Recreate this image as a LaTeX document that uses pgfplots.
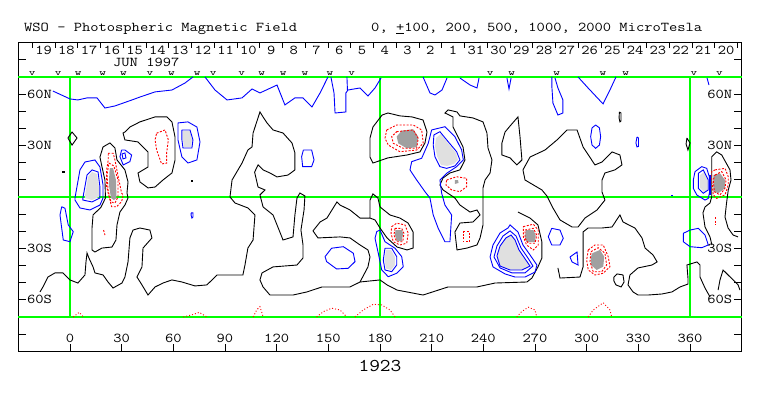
\documentclass[border=0pt]{standalone}
\usepackage{graphicx}
\usepackage{pgfplots}
\pgfplotsset{compat=1.18}
\definecolor{lg}{RGB}{224,224,224}
\definecolor{dg}{RGB}{160,160,160}
\definecolor{grn}{RGB}{0,255,0}
\newcommand{\mono}[1]{\scalebox{1.19}[1]{\fontsize{13.5}{14}\selectfont\ttfamily #1}}
\newcommand{\vwfont}[1]{\scalebox{1.4}[1]{\fontsize{9}{10}\selectfont\ttfamily #1}}
\newcommand{\vw}[2]{\node[inner sep=0pt] at (axis cs:#1,71.8) {\vwfont{#2}};}
\pgfplotsset{
 blk/.style={black, line width=0.9pt},
 blu/.style={blue, line width=0.9pt},
 rdd/.style={red, line width=0.9pt, dash pattern=on 2pt off 1.5pt},
 rdt/.style={red, line width=0.9pt, dash pattern=on 1pt off 2pt},
 gl/.style={grn, line width=1.1pt},
}
\begin{document}
\begin{tikzpicture}
\begin{axis}[
 scale only axis, width=723.3pt, height=308.5pt,
 xmin=-30, xmax=390, ymin=-90, ymax=90,
 clip=false,
 axis line style={black, line width=0.8pt},
 xtick={0,30,...,360}, xticklabels={}, xtick pos=left,
 ytick={-80,-70,...,80}, yticklabels={}, ytick pos=both,
 tick align=inside, major tick length=7.5pt,
 tick style={black, line width=0.8pt},
]
% grid lines
\addplot[gl] coordinates {(-30,70) (390,70)};
\addplot[gl] coordinates {(-30,0) (390,0)};
\addplot[gl] coordinates {(-30,-70) (390,-70)};
\addplot[gl] coordinates {(0,-70) (0,70)};
\addplot[gl] coordinates {(180,-70) (180,70)};
\addplot[gl] coordinates {(360,-70) (360,70)};
% fills (light = strong positive, dark = strong negative)
\addplot[fill=lg, draw=none] coordinates {(8.7,0.6) (10.5,11.7) (12.8,14.6) (15.7,13.4) (16.8,5.8) (16.8,0) (12.8,-1.8) (8.7,-0.6)} -- cycle;
\addplot[fill=lg, draw=none] coordinates {(65.6,38.5) (69.7,38.5) (70.8,33.3) (70.3,29.2) (66.2,29.2) (65.6,33.3)} -- cycle;
\addplot[fill=lg, draw=none] coordinates {(212.5,34.4) (215.4,36.8) (218.9,32.1) (224.1,25.7) (225.3,21.6) (223.0,19.3) (218.9,18.1) (215.4,18.7) (213.1,23.9) (211.9,29.8)} -- cycle;
\addplot[fill=lg, draw=none] coordinates {(183.5,-30.9) (186.4,-30.9) (188.7,-35.0) (188.7,-39.7) (186.4,-42.6) (183.5,-41.7) (182.6,-36.8)} -- cycle;
\addplot[fill=lg, draw=none] coordinates {(247.9,-34.4) (249.7,-28.6) (253.1,-23.9) (256.1,-22.2) (258.4,-25.1) (260.7,-30.9) (264.7,-36.8) (267.1,-40.3) (262.4,-42.6) (255.5,-42.6) (249.7,-40.3)} -- cycle;
\addplot[fill=lg, draw=none] coordinates {(365.8,12.8) (368.1,14.6) (370.4,9.9) (370.4,4.1) (368.1,2.9) (365.8,5.3)} -- cycle;
\addplot[fill=dg, draw=none] coordinates {(23.2,16.9) (25.0,16.9) (26.7,9.9) (27.0,-0.6) (25.5,-1.8) (23.8,-0.6) (22.6,7.0) (22.9,14.6)} -- cycle;
\addplot[fill=dg, draw=none] coordinates {(189.7,35.2) (192.6,38.7) (199.3,39.5) (202.2,35.2) (201.3,29.0) (195.5,28.4) (190.6,31.3)} -- cycle;
\addplot[fill=dg, draw=none] coordinates {(223.5,9.9) (225.3,9.9) (225.6,8.2) (223.5,7.6)} -- cycle;
\addplot[fill=dg, draw=none] coordinates {(189.0,-19.3) (192.6,-19.3) (193.5,-21.2) (192.6,-25.7) (189.7,-25.7) (188.7,-22.2)} -- cycle;
\addplot[fill=dg, draw=none] coordinates {(264.6,-19.3) (269.0,-19.3) (270.4,-22.2) (270.0,-26.4) (265.1,-26.4) (264.2,-23.2)} -- cycle;
\addplot[fill=dg, draw=none] coordinates {(303.3,-32.8) (307.7,-30.9) (310.2,-34.8) (309.6,-40.7) (305.8,-42.6) (302.5,-39.7) (302.5,-34.8)} -- cycle;
\addplot[fill=dg, draw=none] coordinates {(373.5,12.8) (377.4,13.8) (380.3,9.9) (380.3,5.1) (376.4,2.2) (373.5,3.1)} -- cycle;
% zero contours (black)
\addplot[blk] coordinates {(-1.2,34.4) (1.2,37.9) (4.1,34.4) (1.2,30.3) (-1.2,34.4)};
\addplot[blk] coordinates {(20.6,-0.6) (20.3,9.9) (18.6,17.5) (17.4,23.3) (19.2,29.2) (23.2,31.5) (26.1,28.6) (27.3,21.6) (31.9,15.8) (33.7,8.8) (33.1,2.3) (33.7,-0.6) (31.9,-4.7) (29.0,-8.8) (27.3,-16.3) (26.7,-25.1) (24.4,-29.2) (18.6,-29.8) (14.5,-32.1) (12.8,-30.9) (12.8,-18.1) (13.4,-10.5) (18.0,-6.0) (20.6,-0.6)};
\addplot[blk] coordinates {(31.9,37.9) (34.8,40.8) (40.6,43.8) (49.4,46.7) (56.3,46.7) (59.2,43.8) (61.0,35.0) (61.0,21.6) (59.2,14.0) (54.0,9.9) (49.4,5.8) (45.3,5.3) (40.6,8.8) (39.5,14.0) (45.3,17.5) (45.3,26.3) (39.5,32.1) (31.9,33.3) (30.8,37.3) (31.9,37.9)};
\addplot[blk] coordinates {(-17.4,-55.4) (-15.7,-52.5) (-12.8,-46.7) (-8.7,-44.3) (-4.1,-44.3) (0,-48.4) (4.6,-50.2) (8.7,-45.5) (9.3,-37.9) (9.9,-32.7) (11.0,-35.6) (13.4,-40.8) (14.5,-44.3) (19.2,-45.5) (22.1,-49.6) (25.0,-53.1) (30.2,-50.2) (31.9,-46.7) (33.7,-37.9) (34.8,-23.9) (36.6,-19.3) (40.6,-18.1) (46.4,-19.3) (47.6,-23.9) (42.4,-29.8) (41.8,-40.8) (38.9,-46.7) (41.8,-51.3) (45.3,-57.2) (49.4,-52.5) (54.0,-50.2) (59.2,-48.4) (65.0,-49.6) (72.6,-51.9) (79.5,-51.3) (85.4,-45.5) (100.4,-45.5) (101.6,-39.7) (103.3,-29.8) (106.3,-25.1) (107.4,-10.5) (103.3,-6.4) (95.8,-3.5) (92.9,0) (94.1,9.9) (99.9,19.8) (103.3,27.4) (105.7,29.2) (106.3,37.3) (110.3,49.6) (112.1,46.7) (114.4,43.2) (117.9,39.1) (123.7,37.3) (128.9,31.5) (130.6,25.7) (130.6,15.8) (126.6,12.8) (120.2,11.7) (116.1,14.0) (112.1,15.8) (109.2,18.7) (107.2,14.5) (109.2,5.8) (113.2,4.1) (110.3,1.2) (112.1,-5.8) (117.9,-10.5) (123.7,-25.1) (129.5,-23.3) (130.6,-10.5) (131.8,-0.6) (133.5,2.3) (136.4,0.6) (135.9,-7.6) (134.1,-19.3) (135.3,-28.0) (135.3,-35.6) (131.8,-39.7) (117.9,-40.8) (111.5,-44.3) (110.3,-48.4) (112.1,-52.5) (116.1,-57.2) (129.5,-57.2) (137.6,-55.4) (146.3,-52.5) (155.0,-52.5) (162.6,-52.5) (168.4,-49.6) (180.0,-48.4) (184.1,-51.3) (189.9,-54.3) (205.0,-57.2) (219.5,-52.5) (236.3,-52.5) (246.8,-50.2) (265.3,-49.6) (268.2,-47.3) (271.7,-40.8) (274.0,-35.6) (274.0,-26.3) (271.7,-16.3) (267.1,-12.3) (260.1,-8.8)};
\addplot[blk] coordinates {(168.4,-49.6) (173.0,-40.8) (174.2,-35.0) (173.0,-30.9) (168.4,-28.0) (162.6,-23.9) (156.8,-23.3) (144.0,-23.9) (141.1,-19.8) (145.2,-14.6) (149.2,-12.3) (155.0,-2.9) (156.8,-4.7) (162.6,-7.6) (168.4,-12.3) (174.2,-12.3) (174.2,-1.8) (175.9,1.8) (178.8,-0.6) (180.0,-5.8) (185.8,-10.5) (191.6,-12.3) (196.3,-15.2) (199.2,-20.4) (199.2,-29.8) (195.7,-30.9) (189.9,-29.2) (184.1,-23.9) (180.0,-18.1) (177.1,-13.4) (174.2,-12.3)};
\addplot[blk] coordinates {(174.2,34.4) (175.9,40.8) (181.2,47.8) (184.6,49.0) (191.6,47.3) (198.6,46.7) (205.0,44.9) (207.3,37.9) (206.1,31.5) (203.2,26.3) (195.7,24.5) (184.6,22.8) (175.9,19.8) (174.2,23.3) (174.2,31.5) (174.2,34.4)};
\addplot[blk] coordinates {(223.5,-0.6) (216.6,4.1) (214.8,7.0) (216.6,11.1) (220.6,14.0) (226.4,15.8) (229.3,21.6) (228.2,29.2) (224.7,36.2) (222.4,40.8) (222.4,46.7) (217.7,49.0) (219.5,50.8) (224.7,49.6) (226.4,47.3) (234.0,46.1) (239.8,43.8) (242.1,37.3) (242.7,28.6) (245.0,21.6) (243.9,14.0) (241.0,9.9) (239.8,5.3) (239.8,-0.6)};
\addplot[blk] coordinates {(223.5,-0.6) (226.4,-4.7) (232.3,-8.8) (236.3,-7.6) (238.1,-10.5) (234.0,-14.6) (226.4,-15.2) (223.5,-20.4) (224.7,-30.9) (230.5,-29.8) (236.3,-28.0) (238.1,-23.9) (239.8,-16.3) (239.8,-4.7) (239.8,-0.6)};
\addplot[blk] coordinates {(250.8,31.5) (252.6,37.9) (255.5,41.4) (260.1,46.7) (261.3,35.0) (262.4,21.6) (259.5,18.7) (255.5,22.8) (250.8,24.5) (250.8,31.5)};
\addplot[blk] coordinates {(263.0,15.8) (267.1,23.3) (275.8,27.4) (282.8,33.3) (288.6,39.1) (294.4,39.1) (297.9,29.2) (304.8,18.7) (308.9,20.4) (314.7,26.3) (319.3,24.5) (320.5,18.7) (316.4,15.8) (310.6,14.0) (308.9,9.9) (308.9,2.9) (310.6,-1.8) (306.0,-7.6) (299.0,-12.3) (295.0,-17.5) (291.5,-17.5) (284.5,-13.4) (280.4,-6.4) (276.9,0.6) (274.0,4.1) (264.2,9.9) (263.0,15.8)};
\addplot[blk] coordinates {(319.0,49.6) (319.9,49.0) (319.9,44.3) (319.3,43.8) (318.8,46.1) (319.0,49.6)};
\addplot[blk] coordinates {(358.2,34.4) (360.0,31.5) (358.8,27.4) (357.7,30.9) (358.2,34.4)};
\addplot[blk] coordinates {(372.7,-28.0) (371.6,-23.3) (368.7,-17.5) (367.5,-9.3) (368.7,-5.8) (371.6,-3.5) (372.6,0.2) (372.6,23.5) (375.5,26.3) (378.4,24.5) (383.2,15.8) (383.8,9.9) (382.2,4.1) (381.2,-3.5) (380.3,-11.7) (382.1,-18.1) (385.0,-22.2) (387.9,-23.3)};
\addplot[blk] coordinates {(376.3,-54.3) (377.4,-48.4) (379.2,-42.6) (382.1,-45.5) (387.9,-51.3) (389.0,-54.3)};
\addplot[blk] coordinates {(283.3,-41.4) (284.5,-47.3) (296.1,-46.7) (297.9,-40.8) (297.9,-20.4) (300.8,-18.1) (308.9,-18.1) (314.7,-17.5) (319.3,-10.5) (321.1,-14.6) (328.0,-18.1) (332.1,-23.9) (333.9,-29.8) (338.5,-33.8) (340.9,-37.9) (337.9,-39.7) (329.8,-41.4) (325.1,-45.5) (324.0,-51.3) (326.9,-55.4) (329.8,-57.2) (335.6,-57.2) (343.7,-56.6) (349.5,-55.4) (354.2,-52.5) (358.8,-50.8) (358.8,-47.3) (358.2,-39.7) (364.0,-37.9) (365.8,-39.7) (365.8,-46.7) (368.7,-53.1) (371.6,-58.3)};
\addplot[blk] coordinates {(315.8,-46.7) (317.6,-44.9) (321.1,-45.5) (321.7,-49.6) (320.0,-52.5) (317.0,-51.3) (315.8,-49.0) (315.8,-46.7)};
\addplot[only marks, mark=square*, mark size=0.6pt, black] coordinates {(-3.9,14.8) (70.7,9.5)};
% positive contours (blue)
\addplot[blu] coordinates {(-9.9,61.8) (0,57.2) (4.6,56.6) (9.9,57.8) (15.7,57.8) (20.3,51.9) (26.1,53.1) (36.0,56.6) (40.6,58.3) (49.4,61.3) (59.2,62.4) (66.8,66.5) (71.4,70.0)};
\addplot[blu] coordinates {(78.4,70.0) (84.2,62.4) (91.2,56.6) (99.9,57.8) (105.7,63.0) (110.3,60.7) (120.2,65.3) (124.8,53.7) (130.6,57.8) (135.3,57.8) (140.5,52.5) (145.2,60.7) (149.8,70.0)};
\addplot[blu] coordinates {(151.5,70.0) (153.3,60.7) (153.9,49.0) (160.2,49.6) (160.2,60.7) (161.4,62.4) (168.4,63.6) (173.0,58.9) (177.1,63.6) (180.6,69.4)};
\addplot[blu] coordinates {(160.8,70) (161.1,62.4)};
\addplot[blu] coordinates {(205.0,70) (209.0,60.7) (211.9,59.5) (216.0,62.4) (218.9,69.4)};
\addplot[blu] coordinates {(226.4,69.4) (232.3,65.3) (236.3,63.6) (237.5,69.4)};
\addplot[blu] coordinates {(253.7,69.4) (254.9,63.0) (256.1,69.4)};
\addplot[blu] coordinates {(279.8,70) (279.8,64.2) (280.4,54.8) (283.3,47.8) (286.2,49.0) (286.2,56.6) (283.3,63.6) (281.6,69.4)};
\addplot[blu] coordinates {(295.0,70) (300.8,63.6) (309.5,54.3) (313.5,62.4) (317.0,70)};
\addplot[blu] coordinates {(369.9,69.4) (371.0,65.3)};
\addplot[blu] coordinates {(305.2,42.0) (307.4,40.3) (308.1,35.2) (307.4,30.3) (305.2,28.4) (303.1,30.3) (302.3,35.2) (303.1,40.3) (305.2,42.0)};
\addplot[blu] coordinates {(329.2,35.0) (330.1,34.4) (330.1,29.5) (329.2,29.2) (328.6,31.5) (329.2,35.0)};
\addplot[blu] coordinates {(-4.8,-5.7) (-5.8,-10.5) (-3.9,-25.1) (0,-26.1) (1.9,-20.2) (-1.0,-16.3) (-2.9,-6.6) (-4.8,-5.7)};
\addplot[blu] coordinates {(2.9,-0.6) (5.8,15.8) (8.7,20.4) (14.5,21.6) (17.4,17.5) (19.2,7.0) (19.2,-0.6) (17.4,-4.7) (11.6,-7.6) (5.8,-6.4) (2.9,-1.8) (2.9,-0.6)};
\addplot[blu] coordinates {(7.5,-0.6) (9.9,12.8) (12.8,15.8) (16.3,14.6) (17.4,5.8) (17.4,-0.6) (12.8,-2.9) (7.5,-1.8) (7.5,-0.6)};
\addplot[blu] coordinates {(30.0,27.4) (29.0,23.5) (30.9,18.7) (34.8,20.6) (35.8,24.5) (31.9,27.4) (30.0,27.4)};
\addplot[blu] coordinates {(30.2,25.1) (31.9,25.7) (32.5,22.8) (30.8,22.2) (30.2,25.1)};
\addplot[blu] coordinates {(70.3,-9.3) (71.4,-9.3) (71.4,-11.7) (70.8,-12.3) (70.3,-10.5) (70.3,-9.3)};
\addplot[blu] coordinates {(62.7,43.2) (68.5,43.8) (73.7,40.8) (75.5,32.1) (73.7,21.6) (68.5,19.8) (65.0,23.3) (62.7,33.3) (62.7,43.2)};
\addplot[blu] coordinates {(65.0,39.1) (69.7,39.1) (71.4,33.3) (70.8,28.6) (65.6,28.6) (65.0,33.3) (65.0,39.1)};
\addplot[blu] coordinates {(135.5,27.4) (140.3,27.4) (141.7,21.6) (140.3,17.7) (135.1,17.7) (134.5,23.5) (135.5,27.4)};
\addplot[blu] coordinates {(210.0,39.1) (217.7,41.0) (223.5,35.2) (227.4,27.4) (228.4,21.6) (224.5,17.7) (218.7,13.8) (214.8,9.9) (215.8,2.2) (217.7,-4.7) (221.6,-10.5) (220.6,-26.1) (217.7,-26.1) (213.8,-18.3) (210.9,-10.5) (209.0,-0.6) (206.1,3.1) (201.3,9.9) (197.4,15.8) (198.4,20.6) (204.2,22.6) (208.0,31.3) (210.0,39.1)};
\addplot[blu] coordinates {(211.3,36.2) (214.8,38.1) (218.7,33.3) (224.5,26.4) (226.4,21.6) (223.5,18.1) (218.7,16.7) (214.8,17.7) (211.9,23.5) (210.9,30.3) (211.3,36.2)};
\addplot[blu] coordinates {(148.1,-34.8) (151.9,-29.9) (158.7,-29.0) (164.5,-32.8) (165.5,-37.7) (161.6,-41.6) (154.8,-42.0) (149.0,-37.7) (148.1,-34.8)};
\addplot[blu] coordinates {(178.1,-20.2) (180.0,-19.3) (182.9,-26.1) (188.7,-29.9) (192.6,-34.8) (193.5,-40.7) (189.7,-44.5) (184.8,-46.5) (181.0,-42.6) (179.0,-32.8) (177.1,-24.1) (178.1,-20.2)};
\addplot[blu] coordinates {(182.9,-29.9) (186.8,-29.9) (189.7,-34.8) (189.7,-39.7) (186.8,-43.6) (182.9,-42.6) (181.9,-36.8) (182.9,-29.9)};
\addplot[blu] coordinates {(243.9,-35.0) (245.6,-28.0) (249.7,-21.0) (254.3,-18.1) (255.5,-16.3) (260.1,-20.4) (263.0,-28.0) (267.1,-33.8) (271.1,-39.7) (270.0,-43.8) (264.2,-46.7) (258.4,-46.7) (252.6,-44.9) (245.6,-40.8) (243.9,-35.0)};
\addplot[blu] coordinates {(246.2,-35.0) (247.9,-28.6) (251.4,-22.8) (255.5,-19.8) (259.0,-22.8) (261.9,-29.8) (265.9,-35.6) (268.8,-40.3) (264.2,-44.3) (256.6,-44.3) (249.7,-41.4) (246.2,-35.0)};
\addplot[blu] coordinates {(247.9,-34.4) (249.7,-28.6) (253.1,-23.9) (256.1,-22.2) (258.4,-25.1) (260.7,-30.9) (264.7,-36.8) (267.1,-40.3) (262.4,-42.6) (255.5,-42.6) (249.7,-40.3) (247.9,-34.4)};
\addplot[blu] coordinates {(279.7,-18.3) (284.5,-19.3) (286.4,-24.1) (284.5,-28.0) (279.7,-28.0) (277.7,-23.2) (279.7,-18.3)};
\addplot[blu] coordinates {(290.3,-35.0) (294.4,-32.1) (295.0,-39.7) (291.5,-37.9) (290.3,-35.0)};
\addplot[blu] coordinates {(356.1,-21.2) (360.0,-19.3) (364.8,-18.3) (368.7,-22.2) (370.6,-28.0) (366.8,-29.6) (360.0,-29.0) (356.1,-26.1) (356.1,-21.2)};
\addplot[blu] coordinates {(361.9,9.9) (362.9,14.8) (366.8,17.7) (369.7,16.7) (371.2,11.8) (371.6,4.1) (370.6,-0.8) (368.7,-1.8) (363.9,1.2) (361.9,5.1) (361.9,9.9)};
\addplot[blu] coordinates {(364.8,13.8) (367.7,15.8) (370.6,9.9) (370.6,4.1) (367.7,2.2) (364.8,5.1) (364.8,13.8)};
\addplot[blue, line width=1.6pt] coordinates {(371.6,12.8) (371.6,1.2)};
\addplot[blu] coordinates {(349.0,0.6) (350.1,0.6)};
% negative contours (red, dashed)
\addplot[rdd] coordinates {(22.2,25.5) (25.1,25.5) (26.1,21.6) (28.0,11.8) (30.0,2.2) (30.9,1.2) (30.0,-2.7) (27.1,-5.7) (24.2,-5.7) (23.2,-1.8) (21.3,6.0) (21.3,15.8) (22.2,21.6) (22.2,25.5)};
\addplot[rdd] coordinates {(22.6,19.8) (25.5,18.1) (27.9,9.9) (27.9,0) (26.1,-3.5) (23.8,-2.9) (22.1,4.1) (21.5,12.8) (22.6,19.8)};
\addplot[rdd] coordinates {(50.3,37.2) (55.2,39.1) (57.1,33.3) (56.1,25.5) (56.1,19.7) (53.2,19.3) (50.3,27.4) (49.4,33.3) (50.3,37.2)};
\addplot[rdd] coordinates {(183.9,39.1) (189.7,42.0) (199.3,42.0) (204.2,39.1) (205.1,31.3) (201.3,27.4) (191.6,26.4) (184.8,30.3) (182.9,34.2) (183.9,39.1)};
\addplot[rdd] coordinates {(189.7,38.1) (199.3,39.1) (202.2,34.2) (201.3,28.4) (193.5,28.4) (187.7,31.3) (186.8,35.2) (189.7,38.1)};
\addplot[rdd] coordinates {(218.7,9.9) (224.5,11.8) (230.3,10.9) (230.3,6.0) (226.4,3.1) (221.6,4.1) (218.3,7.0) (218.7,9.9)};
\addplot[rdd] coordinates {(186.8,-17.3) (189.7,-15.3) (194.5,-16.3) (196.4,-21.2) (195.5,-27.0) (191.6,-28.0) (187.7,-26.1) (186.4,-21.2) (186.8,-17.3)};
\addplot[rdd] coordinates {(188.7,-18.3) (192.6,-18.3) (193.9,-21.2) (193.2,-26.1) (189.7,-26.1) (188.1,-22.2) (188.7,-18.3)};
\addplot[rdd] coordinates {(228.4,-20.2) (231.8,-20.2) (231.8,-26.1) (228.4,-26.1) (228.4,-20.2)};
\addplot[rdd] coordinates {(263.2,-17.3) (269.0,-15.9) (271.9,-19.3) (271.9,-28.0) (269.0,-30.9) (265.1,-28.0) (263.2,-23.2) (263.2,-17.3)};
\addplot[rdd] coordinates {(264.2,-19.3) (269.0,-18.3) (271.0,-22.2) (270.0,-27.0) (266.1,-27.0) (264.2,-24.1) (264.2,-19.3)};
\addplot[rdd] coordinates {(300.9,-30.9) (304.8,-28.0) (309.6,-28.0) (312.5,-34.8) (313.5,-40.7) (309.6,-44.5) (304.8,-45.5) (300.9,-42.6) (300.0,-36.8) (300.9,-30.9)};
\addplot[rdd] coordinates {(302.5,-31.9) (306.7,-29.6) (310.6,-32.8) (311.6,-39.7) (308.7,-43.6) (303.8,-43.6) (301.9,-37.7) (302.5,-31.9)};
\addplot[rdd] coordinates {(374.5,15.8) (380.3,16.7) (382.2,11.8) (382.2,7.0) (380.3,1.2) (375.5,-0.8) (373.5,1.2) (372.6,9.9) (372.6,14.8) (374.5,15.8)};
\addplot[rdd] coordinates {(374.5,12.8) (378.4,14.8) (380.9,9.9) (380.3,5.1) (377.4,1.2) (374.1,3.1) (373.5,9.9) (374.5,12.8)};
\addplot[rdd] coordinates {(374.5,-11.7) (374.5,-16.3)};
\addplot[rdd] coordinates {(19.5,-19.3) (20.3,-22.2)};
\addplot[rdt] coordinates {(1.9,-70) (5.4,-67.3) (7.7,-70)};
\addplot[rdt] coordinates {(65.8,-70) (70.7,-68.8) (75.1,-67.3) (79.4,-70)};
\addplot[rdt] coordinates {(106.4,-70) (108.4,-65.9) (110.3,-64.0) (112.2,-70)};
\addplot[rdt] coordinates {(143.2,-70) (147.1,-66.9) (151.9,-64.9) (156.8,-65.9) (160.7,-70)};
\addplot[rdt] coordinates {(165.5,-70) (170.3,-65.9) (176.1,-62.6) (181.0,-63.0) (185.8,-65.9) (188.7,-70)};
\addplot[rdt] coordinates {(259.4,-70) (262.2,-66.9) (266.1,-64.3) (270.0,-65.9) (271.0,-70)};
\addplot[rdt] coordinates {(300.9,-70) (303.8,-65.9) (309.6,-61.7) (313.5,-65.9) (314.5,-70)};
% texts
\node[anchor=base west, inner sep=0pt] at (axis cs:-26.7,96.4) {\mono{WSO - Photospheric Magnetic Field}};
\node[anchor=base west, inner sep=0pt] at (axis cs:174.8,96.4) {\mono{0, \underline{+}100, 200, 500, 1000, 2000 MicroTesla}};
\node[inner sep=0pt] at (axis cs:44.3,78.5) {\mono{JUN 1997}};
\node[anchor=west, inner sep=0pt] at (axis cs:-25,60) {\mono{60N}};
\node[anchor=west, inner sep=0pt] at (axis cs:-25,30) {\mono{30N}};
\node[anchor=west, inner sep=0pt] at (axis cs:-25,-30) {\mono{30S}};
\node[anchor=west, inner sep=0pt] at (axis cs:-25,-60) {\mono{60S}};
\node[anchor=east, inner sep=0pt] at (axis cs:384.6,60) {\mono{60N}};
\node[anchor=east, inner sep=0pt] at (axis cs:384.6,30) {\mono{30N}};
\node[anchor=east, inner sep=0pt] at (axis cs:384.6,-30) {\mono{30S}};
\node[anchor=east, inner sep=0pt] at (axis cs:384.6,-60) {\mono{60S}};
\pgfplotsinvokeforeach{0,30,...,360}{\node[inner sep=0pt] at (axis cs:#1,-82.3) {\mono{#1}};}
\node[inner sep=0pt] at (axis cs:180,-98.6) {\scalebox{1.16}[1]{\fontsize{18}{20}\selectfont\ttfamily 1923}};
\vw{-21.9}{v}\vw{-6.8}{v}\vw{4.8}{w}\vw{19.0}{w}\vw{31.0}{w}\vw{46.4}{v}\vw{58.9}{w}\vw{73.9}{w}
\vw{83.2}{v}\vw{99.7}{v}\vw{111.3}{w}\vw{123.8}{w}\vw{136.4}{w}\vw{151.0}{w}\vw{163.6}{v}
\vw{243.9}{v}\vw{256.5}{w}\vw{282.6}{w}\vw{309.5}{w}\vw{322.7}{w}\vw{362.3}{v}\vw{377.0}{v}
\end{axis}
\begin{axis}[
 scale only axis, width=723.3pt, height=308.5pt,
 xmin=-30, xmax=390, ymin=-90, ymax=90,
 axis line style={draw=none}, ytick=\empty,
 xtick={-15.3,-2.1,11.1,24.3,37.5,50.7,63.9,77.2,90.4,103.6,116.8,130.0,143.2,156.4,169.6,182.8,196.0,209.2,222.4,235.7,248.9,262.1,275.3,288.5,301.7,314.9,328.1,341.3,354.5,367.7,380.9},
 xticklabels={\mono{19},\mono{18},\mono{17},\mono{16},\mono{15},\mono{14},\mono{13},\mono{12},\mono{11},\mono{10},\mono{9},\mono{8},\mono{7},\mono{6},\mono{5},\mono{4},\mono{3},\mono{2},\mono{1},\mono{31},\mono{30},\mono{29},\mono{28},\mono{27},\mono{26},\mono{25},\mono{24},\mono{23},\mono{22},\mono{21},\mono{20}},
 minor xtick={-21.9,-8.7,4.5,17.7,30.9,44.2,57.4,70.6,83.8,97.0,110.2,123.4,136.6,149.8,163.0,176.3,189.5,202.7,215.9,229.1,242.3,255.5,268.7,281.9,295.1,308.3,321.5,334.8,348.0,361.2,374.4,387.6},
 xtick pos=right, xticklabel pos=right,
 tick align=inside, major tick length=0pt, minor tick length=5.5pt,
 minor tick style={black, line width=0.8pt},
 xticklabel style={anchor=center, yshift=-7.3pt, inner sep=0pt},
]
\end{axis}
\pgfresetboundingbox
\path[use as bounding box] ([shift={(-18.3pt,-44.7pt)}]current axis.south west) rectangle ([shift={(21.3pt,42.7pt)}]current axis.north east);
\end{tikzpicture}
\end{document}
